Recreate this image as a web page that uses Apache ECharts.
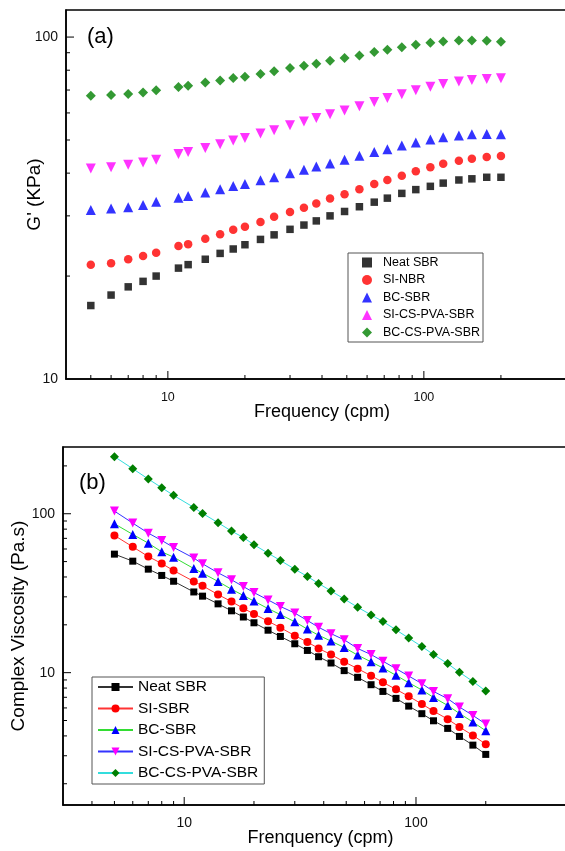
<!DOCTYPE html>
<html><head><meta charset="utf-8">
<script src="https://cdn.jsdelivr.net/npm/echarts@6/dist/echarts.min.js"></script>
<style>html,body{margin:0;padding:0;background:#fff;}#c1{position:absolute;left:0;top:0;width:565px;height:440px;z-index:2;}#c2{position:absolute;left:0;top:420px;width:565px;height:431px;z-index:1;}</style>
</head><body><div id="c1"></div><div id="c2"></div>
<script>
// Frequency (cpm) — shared by both panels
const freq = [5,6,7,8,9,11,12,14,16,18,20,23,26,30,34,38,43,49,56,64,72,82,93,106,119,137,154,176,200];

// Panel (a): G' (KPa)
const gNeat = [16.4,17.6,18.6,19.3,20.0,21.1,21.6,22.4,23.3,24.0,24.7,25.6,26.4,27.4,28.2,29.0,30.0,30.9,31.9,32.9,33.8,34.9,35.8,36.6,37.4,38.2,38.5,38.9,38.9];
const gSI = [21.6,21.8,22.4,22.9,23.4,24.5,24.8,25.7,26.5,27.3,27.9,28.8,29.8,30.8,31.7,32.6,33.7,34.7,35.9,37.2,38.2,39.3,40.5,41.6,42.6,43.5,44.1,44.6,44.9];
const gBC = [31.2,31.5,31.8,32.3,33.0,33.9,34.3,35.1,35.9,36.7,37.2,38.1,38.9,40.0,40.9,41.8,42.7,43.8,45.0,46.1,47.0,48.2,49.2,50.2,50.9,51.5,52.0,52.1,52.0];
const gSICS = [41.3,41.6,42.3,43.0,43.8,45.5,46.1,47.4,48.6,49.8,50.7,52.2,53.4,55.2,56.6,58.0,59.5,61.0,62.8,64.6,66.4,68.0,69.9,71.6,72.9,74.1,74.9,75.4,75.8];
const gBCCS = [67.4,67.7,68.2,68.9,69.9,71.5,72.1,73.6,74.6,75.9,76.6,78.0,79.4,81.2,82.5,83.6,85.3,86.8,88.4,90.4,91.8,93.3,95.0,96.3,97.1,97.8,97.8,97.6,96.9];
const namesA = ['Neat SBR','SI-NBR','BC-SBR','SI-CS-PVA-SBR','BC-CS-PVA-SBR'];

// Panel (b): Complex viscosity (Pa.s)
const vNeat = [55.7,50.3,44.8,40.9,37.6,32.2,30.3,27.1,24.5,22.4,20.6,18.5,16.9,15.2,13.8,12.6,11.5,10.3,9.35,8.40,7.62,6.89,6.16,5.52,4.98,4.46,3.97,3.50,3.06];
const vSI = [73.0,61.9,53.8,48.6,43.9,37.5,35.2,31.0,28.0,25.4,23.4,21.1,19.2,17.1,15.6,14.2,13.0,11.7,10.6,9.57,8.69,7.85,7.10,6.35,5.73,5.10,4.55,4.03,3.55];
const vBC = [86.5,74.1,65.3,57.6,53.3,45.2,42.3,37.5,33.5,30.6,28.2,25.3,23.2,20.9,18.8,17.2,15.8,14.4,12.9,11.7,10.7,9.62,8.65,7.78,6.99,6.22,5.54,4.89,4.31];
const vSICS = [103.9,87.3,75.5,67.9,61.4,52.6,48.4,42.5,38.4,34.8,31.9,28.7,26.1,23.7,21.3,19.3,17.6,16.1,14.2,13.0,11.8,10.6,9.53,8.53,7.62,6.86,6.08,5.38,4.75];
const vBCCS = [228.7,192.1,165.4,145.8,130.5,109.6,100.5,87.8,77.8,70.9,63.8,56.5,50.8,44.8,40.3,36.4,32.7,29.1,25.8,23.1,21.0,18.6,16.5,14.6,13.0,11.4,10.05,8.81,7.66];
const namesB = ['Neat SBR','SI-SBR','BC-SBR','SI-CS-PVA-SBR','BC-CS-PVA-SBR'];

// Tick values
const xTicksA = [5,6,7,8,9,10,20,30,40,50,60,70,80,90,100,200];
const yTicksA = [20,30,40,50,60,70,80,90,100];
const xTicksB = [4,5,6,7,8,9,10,20,30,40,50,60,70,80,90,100,200];
const yTicksB = [2,3,4,5,6,7,8,9,10,20,30,40,50,60,70,80,90,100,200];

const FONT = 'Liberation Sans, Arial, sans-serif';
const pair = (ys) => freq.map((f, i) => [f, ys[i]]);
const isPow = (v) => Math.abs(Math.log10(v) - Math.round(Math.log10(v))) < 1e-6;
const labelFmt = (v) => isPow(v) ? String(Math.round(v)) : '';

function xTickSeries(ticks, yAt) {
  return { type: 'custom', silent: true, clip: false, z: 5,
    data: ticks.map(v => [v, yAt]),
    renderItem: (params, api) => {
      const v = api.value(0);
      const p = api.coord([v, api.value(1)]);
      const len = isPow(v) ? 8 : 4;
      return { type: 'line', shape: { x1: p[0], y1: p[1], x2: p[0], y2: p[1] - len }, style: { stroke: '#000', lineWidth: 1 } };
    } };
}
function yTickSeries(ticks, xAt) {
  return { type: 'custom', silent: true, clip: false, z: 5,
    data: ticks.map(v => [xAt, v]),
    renderItem: (params, api) => {
      const v = api.value(1);
      const p = api.coord([api.value(0), v]);
      const len = isPow(v) ? 8 : 4;
      return { type: 'line', shape: { x1: p[0], y1: p[1], x2: p[0] + len, y2: p[1] }, style: { stroke: '#000', lineWidth: 1 } };
    } };
}

const symbols = ['rect', 'circle', 'triangle', 'triangle', 'diamond'];
const rotates = [0, 0, 0, 180, 0];
const colors = ['#000000', '#ff0000', '#0000ff', '#ff00ff', '#007f00'];
const lineColors = ['#333333', '#ff3333', '#33dd33', '#3333ff', '#33dddd'];

// ---------- Panel (a)
const xMinA = 4, xMaxA = 400, yMinA = 10, yMaxA = 120;
const seriesA = [gNeat, gSI, gBC, gSICS, gBCCS].map((ys, k) => ({
  name: namesA[k], type: 'scatter', data: pair(ys),
  symbol: symbols[k], symbolRotate: rotates[k],
  symbolSize: [7.5, 8.5, 10, 10, 10][k],
  itemStyle: { color: colors[k] }
}));
seriesA.push(xTickSeries(xTicksA, yMinA));
seriesA.push(yTickSeries(yTicksA, xMinA));

const chartA = echarts.init(document.getElementById('c1'), null, { renderer: 'canvas' });
chartA.setOption({
  animation: false,
  title: { text: '(a)', left: 87, top: 26, padding: 0, textStyle: { fontFamily: FONT, fontSize: 22, fontWeight: 'normal', color: '#000' } },
  grid: { left: 66, top: 10, width: 512, height: 369, show: true, backgroundColor: '#fff', borderColor: '#000', borderWidth: 1.5, containLabel: false, outerBoundsMode: 'none' },
  xAxis: { type: 'log', logBase: 10, min: xMinA, max: xMaxA,
    name: 'Frequency (cpm)', nameLocation: 'middle', nameGap: 24, nameMoveOverlap: false,
    nameTextStyle: { fontFamily: FONT, fontSize: 18, color: '#000' },
    axisLine: { show: true, lineStyle: { color: '#000', width: 1.5 } },
    axisTick: { show: false }, splitLine: { show: false }, minorTick: { show: false },
    axisLabel: { formatter: labelFmt, fontFamily: FONT, fontSize: 12.5, color: '#111', margin: 12 } },
  yAxis: { type: 'log', logBase: 10, min: yMinA, max: yMaxA,
    name: "G' (KPa)", nameLocation: 'middle', nameGap: 22, nameRotate: 90, nameMoveOverlap: false,
    nameTextStyle: { fontFamily: FONT, fontSize: 19, color: '#000' },
    axisLine: { show: true, lineStyle: { color: '#000', width: 1.5 } },
    axisTick: { show: false }, splitLine: { show: false },
    axisLabel: { formatter: labelFmt, fontFamily: FONT, fontSize: 14, color: '#111', margin: 8 } },
  legend: { data: namesA, orient: 'vertical', left: 348, top: 253,
    padding: [3, 3, 3, 14], itemGap: 4.5, itemWidth: 10, itemHeight: 10,
    borderColor: '#555', borderWidth: 1, selectedMode: false,
    textStyle: { fontFamily: FONT, fontSize: 12.5, color: '#000', lineHeight: 12, padding: [0, 0, 0, 6] } },
  series: seriesA
});

// ---------- Panel (b)
const xMinB = 3, xMaxB = 500, yMinB = 1.47, yMaxB = 263;
const seriesB = [vNeat, vSI, vBC, vSICS, vBCCS].map((ys, k) => ({
  name: namesB[k], type: 'line', data: pair(ys),
  symbol: symbols[k], symbolRotate: rotates[k],
  symbolSize: [7, 8, 9, 9, 9][k], showSymbol: true,
  itemStyle: { color: colors[k] },
  lineStyle: { color: lineColors[k], width: 1 }
}));
seriesB.push(xTickSeries(xTicksB, yMinB));
seriesB.push(yTickSeries(yTicksB, xMinB));

const chartB = echarts.init(document.getElementById('c2'), null, { renderer: 'canvas' });
chartB.setOption({
  animation: false,
  backgroundColor: '#fff',
  title: { text: '(b)', left: 79, top: 52, padding: 0, textStyle: { fontFamily: FONT, fontSize: 22, fontWeight: 'normal', color: '#000' } },
  grid: { left: 63, top: 27, width: 515, height: 358, show: true, borderColor: '#000', borderWidth: 1.5, containLabel: false, outerBoundsMode: 'none' },
  xAxis: { type: 'log', logBase: 10, min: xMinB, max: xMaxB,
    name: 'Frenquency (cpm)', nameLocation: 'middle', nameGap: 24, nameMoveOverlap: false,
    nameTextStyle: { fontFamily: FONT, fontSize: 18, color: '#000' },
    axisLine: { show: true, lineStyle: { color: '#000', width: 1.5 } },
    axisTick: { show: false }, splitLine: { show: false },
    axisLabel: { formatter: labelFmt, fontFamily: FONT, fontSize: 14, color: '#111', margin: 11 } },
  yAxis: { type: 'log', logBase: 10, min: yMinB, max: yMaxB,
    name: 'Complex Viscosity (Pa.s)', nameLocation: 'middle', nameGap: 35, nameRotate: 90, nameMoveOverlap: false,
    nameTextStyle: { fontFamily: FONT, fontSize: 19, color: '#000' },
    axisLine: { show: true, lineStyle: { color: '#000', width: 1.5 } },
    axisTick: { show: false }, splitLine: { show: false },
    axisLabel: { formatter: labelFmt, fontFamily: FONT, fontSize: 14, color: '#111', margin: 8 } },
  legend: { data: namesB, orient: 'vertical', left: 92, top: 257,
    padding: [2, 6, 3, 5], itemGap: 5.5, itemWidth: 35, itemHeight: 10,
    borderColor: '#555', borderWidth: 1, selectedMode: false,
    textStyle: { fontFamily: FONT, fontSize: 15.5, color: '#000', lineHeight: 16 } },
  series: seriesB
});
</script></body></html>
